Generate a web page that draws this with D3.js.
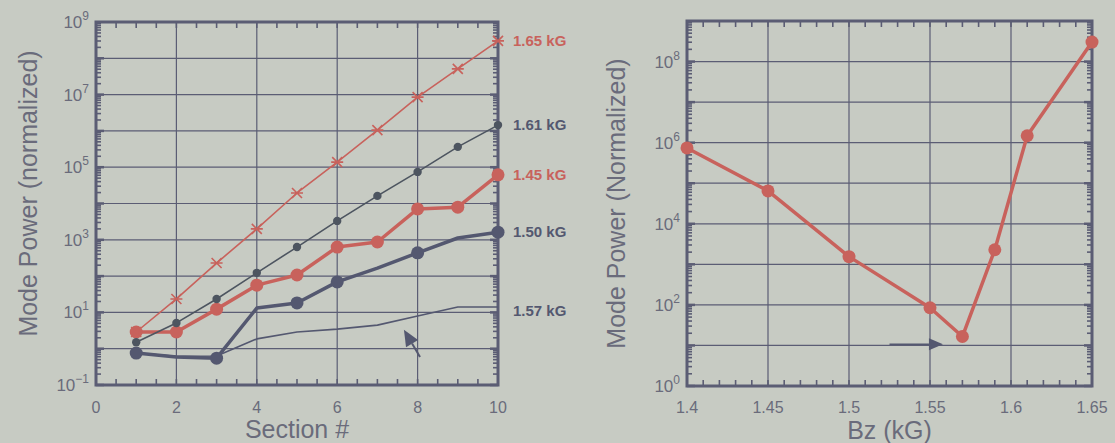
<!DOCTYPE html>
<html><head><meta charset="utf-8">
<script src="https://cdn.jsdelivr.net/npm/d3@7"></script>
<style>
html,body{margin:0;padding:0;background:#c7cbc3;}
svg{display:block;font-family:"Liberation Sans",Arial,sans-serif;}
</style></head>
<body><svg id="c" width="1115" height="443"></svg>
<script>
// ---------- data ----------
const sections = [1,2,3,4,5,6,7,8,9,10];
// log10 of mode power per section
const s165 = [0.46,1.37,2.36,3.30,4.29,5.14,6.02,6.93,7.71,8.48];
const s161 = [0.18,0.71,1.37,2.09,2.80,3.52,4.21,4.87,5.56,6.16];
const s145 = [0.46,0.46,1.09,1.75,2.03,2.80,2.94,3.85,3.90,4.79];
const s150 = [-0.12,-0.23,-0.26,1.12,1.26,1.84,2.22,2.64,3.05,3.21];
const s157 = [-0.12,-0.21,-0.20,0.27,0.46,0.54,0.65,0.90,1.15,1.15];
const s150Markers = [1,3,5,6,8,10];
const seriesLabels = ["1.65 kG","1.61 kG","1.45 kG","1.50 kG","1.57 kG"];
const leftXTicks = [0,2,4,6,8,10];
const leftYExp = [-1,1,3,5,7,9];
const bz = [1.40,1.45,1.50,1.55,1.57,1.59,1.61,1.65];
const bzPower = [5.87,4.81,3.19,1.93,1.22,3.36,6.17,8.48]; // log10
const rightXTicks = [1.4,1.45,1.5,1.55,1.6,1.65];
const rightYExp = [0,2,4,6,8];
const leftArrow = {from:[8.06,-0.23], to:[7.66,0.52]};
const rightArrow = {from:[1.525,1.03], to:[1.558,1.03]};

// ---------- style ----------
const RED = "#c8625c", DARK = "#545870", AX = "#5b5d74", TXT = "#6a6b7b";
const svg = d3.select("#c");
const pow = v => Math.pow(10, v);

function frame(g, x, y, xMinorStep, xMajor) {
  const [x0,x1] = x.range(), [y1,y0] = y.range();
  const [d0,d1] = y.domain();
  const e0 = Math.round(Math.log10(d0)), e1 = Math.round(Math.log10(d1));
  for (let e=e0+1;e<e1;e++) g.append("line").attr("x1",x0).attr("x2",x1)
      .attr("y1",y(pow(e))).attr("y2",y(pow(e))).attr("stroke",AX).attr("stroke-width",1.2);
  xMajor.slice(1,-1).forEach(v=>g.append("line").attr("x1",x(v)).attr("x2",x(v))
      .attr("y1",y0).attr("y2",y1).attr("stroke",AX).attr("stroke-width",1.2));
  for (let e=e0;e<e1;e++){
    for (let m=1;m<10;m++){
      const yy = y(m*pow(e));
      const L = m===1?8:5;
      [[x0,1],[x1,-1]].forEach(([xx,s])=>g.append("line").attr("x1",xx).attr("x2",xx+s*L)
        .attr("y1",yy).attr("y2",yy).attr("stroke",AX).attr("stroke-width",m===1?2.5:1.6));
    }
  }
  const [a,b] = x.domain();
  const n = Math.round((b-a)/xMinorStep);
  for (let i=1;i<n;i++){
    const xx = x(a+i*xMinorStep);
    [[y1,-1],[y0,1]].forEach(([yy,s])=>g.append("line").attr("x1",xx).attr("x2",xx)
      .attr("y1",yy).attr("y2",yy+s*6).attr("stroke",AX).attr("stroke-width",1.6));
  }
  g.append("rect").attr("x",x0).attr("y",y0).attr("width",x1-x0).attr("height",y1-y0)
    .attr("fill","none").attr("stroke",AX).attr("stroke-width",3);
}

function yLabels(g, y, exps, xr) {
  exps.forEach(e=>{
    const t = g.append("text").attr("x",xr).attr("y",y(pow(e))+6)
      .attr("text-anchor","end").attr("fill",TXT).attr("font-size",17);
    t.append("tspan").text("10");
    t.append("tspan").attr("dy",-8).attr("font-size",12).text(String(e).replace("-","\u2212"));
  });
}

function arrow(g, p0, p1, headLen, headW, sw) {
  const dx=p1[0]-p0[0], dy=p1[1]-p0[1], L=Math.hypot(dx,dy), ux=dx/L, uy=dy/L;
  const bx=p1[0]-ux*headLen, by=p1[1]-uy*headLen;
  g.append("line").attr("x1",p0[0]).attr("y1",p0[1]).attr("x2",bx).attr("y2",by)
    .attr("stroke",DARK).attr("stroke-width",sw);
  g.append("path").attr("d",`M${p1[0]},${p1[1]}L${bx-uy*headW},${by+ux*headW}L${bx+uy*headW},${by-ux*headW}Z`)
    .attr("fill",DARK);
}

// ---------- left chart ----------
const xL = d3.scaleLinear().domain([0,10]).range([96,498]);
const yL = d3.scaleLog().domain([0.1,1e9]).range([385,22]);
const gL = svg.append("g");
frame(gL, xL, yL, 0.5, leftXTicks);
yLabels(gL, yL, leftYExp, 89);
leftXTicks.forEach(v=>gL.append("text").attr("x",xL(v)).attr("y",413).attr("text-anchor","middle")
  .attr("fill",TXT).attr("font-size",16).text(v));
gL.append("text").attr("x",xL(5)).attr("y",438).attr("text-anchor","middle").attr("fill",TXT)
  .attr("font-size",25).text("Section #");
gL.append("text").attr("transform",`translate(37,${(22+385)/2-10}) rotate(-90)`).attr("text-anchor","middle")
  .attr("fill",TXT).attr("font-size",25).text("Mode Power (normalized)");

const lineL = d3.line().x(d=>xL(d[0])).y(d=>yL(pow(d[1])));
const zipS = arr => sections.map((s,i)=>[s,arr[i]]);
const drawLine=(arr,col,w)=>gL.append("path").attr("d",lineL(zipS(arr))).attr("fill","none")
  .attr("stroke",col).attr("stroke-width",w).attr("stroke-linejoin","round");
drawLine(s157,DARK,1.6);
drawLine(s150,DARK,3.5);
drawLine(s145,RED,3.5);
drawLine(s161,"#4d5560",1.6);
drawLine(s165,RED,1.6);
zipS(s150).filter(d=>s150Markers.includes(d[0])).forEach(d=>gL.append("circle")
  .attr("cx",xL(d[0])).attr("cy",yL(pow(d[1]))).attr("r",6.5).attr("fill",DARK));
zipS(s145).forEach(d=>gL.append("circle").attr("cx",xL(d[0])).attr("cy",yL(pow(d[1]))).attr("r",6.5).attr("fill",RED));
zipS(s161).forEach(d=>gL.append("circle").attr("cx",xL(d[0])).attr("cy",yL(pow(d[1]))).attr("r",4.2).attr("fill","#4d5560"));
zipS(s165).forEach(d=>{
  const cx=xL(d[0]), cy=yL(pow(d[1])), r=5;
  gL.append("path").attr("d",`M${cx-r},${cy-r}L${cx+r},${cy+r}M${cx-r},${cy+r}L${cx+r},${cy-r}M${cx-r-1},${cy}L${cx+r+1},${cy}`)
    .attr("stroke",RED).attr("stroke-width",1.6);
});
const lastVals = [s165[9], s161[9], s145[9], s150[9], s157[9]];
const labelCols = [RED, DARK, RED, DARK, DARK];
const labelDy = [0, 0, 0, 0, 4];
seriesLabels.forEach((t,i)=>gL.append("text").attr("x",513).attr("y",yL(pow(lastVals[i]))+5+labelDy[i])
  .attr("fill",labelCols[i]).attr("font-size",15).attr("font-weight","bold").text(t));
arrow(gL,[xL(leftArrow.from[0]),yL(pow(leftArrow.from[1]))],[xL(leftArrow.to[0]),yL(pow(leftArrow.to[1]))],16,7,2);

// ---------- right chart ----------
const xR = d3.scaleLinear().domain([1.4,1.65]).range([687,1092]);
const yR = d3.scaleLog().domain([1,1e9]).range([386,21]);
const gR = svg.append("g");
frame(gR, xR, yR, 0.01, rightXTicks);
yLabels(gR, yR, rightYExp, 680);
rightXTicks.forEach(v=>gR.append("text").attr("x",xR(v)).attr("y",413).attr("text-anchor","middle")
  .attr("fill",TXT).attr("font-size",16).text(v));
gR.append("text").attr("x",xR(1.525)).attr("y",439).attr("text-anchor","middle").attr("fill",TXT)
  .attr("font-size",25).text("Bz (kG)");
gR.append("text").attr("transform",`translate(625,${(21+386)/2}) rotate(-90)`).attr("text-anchor","middle")
  .attr("fill",TXT).attr("font-size",25).text("Mode Power (Normalized)");
const bzPts = bz.map((b,i)=>[b,bzPower[i]]);
gR.append("path").attr("d",d3.line().x(d=>xR(d[0])).y(d=>yR(pow(d[1])))(bzPts))
  .attr("fill","none").attr("stroke",RED).attr("stroke-width",3.5).attr("stroke-linejoin","round");
bzPts.forEach(d=>gR.append("circle").attr("cx",xR(d[0])).attr("cy",yR(pow(d[1]))).attr("r",6.5).attr("fill",RED));
arrow(gR,[xR(rightArrow.from[0]),yR(pow(rightArrow.from[1]))],[xR(rightArrow.to[0]),yR(pow(rightArrow.to[1]))],14,6,1.5);
</script></body></html>
